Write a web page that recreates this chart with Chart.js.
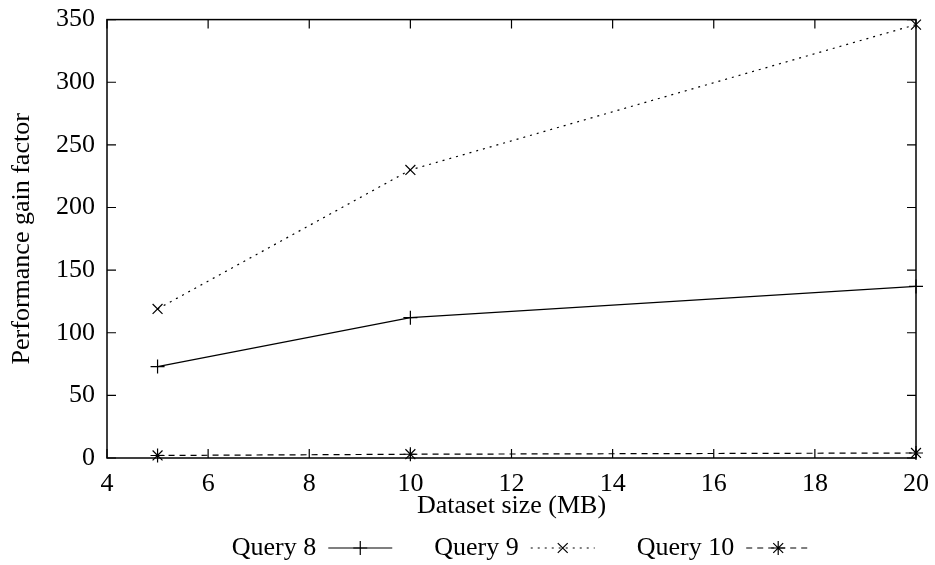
<!DOCTYPE html>
<html>
<head>
<meta charset="utf-8">
<script src="https://cdn.jsdelivr.net/npm/chart.js"></script>
<style>
  body { margin: 0; background: #fff; }
</style>
</head>
<body>
<canvas id="myChart" width="935" height="565"></canvas>
<script>
/*----data----*/
const sizes = [5, 10, 20];
const query8 = [73, 112, 137];
const query9 = [119, 230, 346];
const query10 = [2, 3, 4];
const seriesNames = ["Query 8", "Query 9", "Query 10"];

const FONT = "'Liberation Serif', 'Times New Roman', serif";
const FS = 26;

function pts(vals) {
  return sizes.map(function (s, i) { return { x: s, y: vals[i] }; });
}

/*----box, inward ticks and legend----*/
const boxPlugin = {
  id: "boxPlugin",
  afterDraw: function (chart) {
    const ctx = chart.ctx;
    const a = chart.chartArea;
    const xs = chart.scales.x;
    const ys = chart.scales.y;
    ctx.save();
    ctx.strokeStyle = "#000";
    ctx.lineWidth = 1.5;
    ctx.setLineDash([]);
    ctx.strokeRect(a.left, a.top, a.right - a.left, a.bottom - a.top);
    ctx.lineWidth = 1.2;
    const t = 9;
    xs.ticks.forEach(function (tk) {
      const px = xs.getPixelForValue(tk.value);
      ctx.beginPath();
      ctx.moveTo(px, a.bottom); ctx.lineTo(px, a.bottom - t);
      ctx.moveTo(px, a.top); ctx.lineTo(px, a.top + t);
      ctx.stroke();
    });
    ys.ticks.forEach(function (tk) {
      const py = ys.getPixelForValue(tk.value);
      ctx.beginPath();
      ctx.moveTo(a.left, py); ctx.lineTo(a.left + t, py);
      ctx.moveTo(a.right, py); ctx.lineTo(a.right - t, py);
      ctx.stroke();
    });

    // legend: text then line sample with marker
    ctx.font = FS + "px " + FONT;
    ctx.fillStyle = "#000";
    ctx.textBaseline = "middle";
    const sample = 64, gap = 12, itemGap = 42;
    let total = 0;
    chart.data.datasets.forEach(function (ds, i) {
      total += ctx.measureText(ds.label).width + gap + sample + (i ? itemGap : 0);
    });
    let x = 521 - total / 2;
    const y = 548;
    chart.data.datasets.forEach(function (ds, i) {
      if (i) x += itemGap;
      ctx.textAlign = "left";
      ctx.fillText(ds.label, x, y);
      x += ctx.measureText(ds.label).width + gap;
      ctx.beginPath();
      ctx.lineWidth = 1.2;
      ctx.setLineDash(ds.borderDash || []);
      ctx.moveTo(x, y); ctx.lineTo(x + sample, y);
      ctx.stroke();
      ctx.setLineDash([]);
      Chart.helpers.drawPoint(ctx, {
        pointStyle: ds.pointStyle, radius: ds.pointRadius, rotation: 0, borderWidth: 1.2
      }, x + sample / 2, y);
      x += sample;
    });
    ctx.restore();
  }
};

/*----graph----*/
new Chart("myChart", {
  type: "line",
  data: {
    datasets: [{
      label: seriesNames[0],
      data: pts(query8),
      borderColor: "#000",
      borderWidth: 1.2,
      pointStyle: "cross",
      pointRadius: 7,
      pointBorderColor: "#000",
      pointBorderWidth: 1.2,
      clip: false,
      fill: false
    }, {
      label: seriesNames[1],
      data: pts(query9),
      borderColor: "#000",
      borderWidth: 1.2,
      borderDash: [2, 5],
      pointStyle: "crossRot",
      pointRadius: 7,
      pointBorderColor: "#000",
      pointBorderWidth: 1.2,
      clip: false,
      fill: false
    }, {
      label: seriesNames[2],
      data: pts(query10),
      borderColor: "#000",
      borderWidth: 1.2,
      borderDash: [6, 5],
      pointStyle: "star",
      pointRadius: 7,
      pointBorderColor: "#000",
      pointBorderWidth: 1.2,
      clip: false,
      fill: false
    }]
  },
  options: {
    responsive: false,
    animation: false,
    layout: { padding: { top: 11, right: 19, left: 0, bottom: 43 } },
    plugins: {
      legend: { display: false },
      tooltip: { enabled: false }
    },
    scales: {
      x: {
        type: "linear",
        min: 4, max: 20,
        ticks: { stepSize: 2, color: "#000", font: { family: FONT, size: FS }, padding: 3 },
        grid: { display: false },
        border: { display: false },
        title: { display: true, text: "Dataset size (MB)", color: "#000", font: { family: FONT, size: FS }, padding: 0 },
        afterFit: function (s) { s.height = 64; }
      },
      y: {
        min: 0, max: 350,
        ticks: { stepSize: 50, color: "#000", font: { family: FONT, size: FS }, padding: 4 },
        grid: { display: false },
        border: { display: false },
        title: { display: true, text: "Performance gain factor", color: "#000", font: { family: FONT, size: FS }, padding: { top: 7, bottom: 0 } },
        afterFit: function (s) { s.width = 107; }
      }
    }
  },
  plugins: [boxPlugin]
});
</script>
</body>
</html>
